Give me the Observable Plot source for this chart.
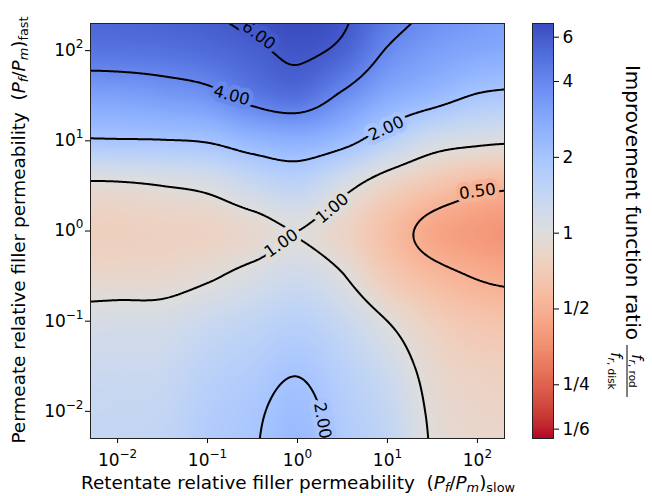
<!DOCTYPE html>
<html><head><meta charset="utf-8">
<script src="https://cdn.jsdelivr.net/npm/d3@7"></script>
<script src="https://cdn.jsdelivr.net/npm/@observablehq/plot@0.6"></script>
<style>
html,body{margin:0;padding:0;background:#fff;}
#chart{position:relative;width:652px;height:496px;}
#chart svg{position:absolute;left:0;top:0;}
</style></head><body><div id="chart"></div>
<script>
const retentateP = [0.00316, 0.01, 0.0316, 0.1, 0.316, 1, 3.16, 10, 31.6, 100, 316];
const permeateP  = [0.00316, 0.01, 0.0316, 0.1, 0.316, 1, 3.16, 10, 31.6, 100, 316];
// improvement ratio, one row per permeate value (ascending), columns follow retentateP
const row_m25 = [1.42, 1.45, 1.50, 1.78, 1.96, 2.30, 1.82, 1.48, 0.98, 0.87, 0.85];
const row_m20 = [1.38, 1.40, 1.43, 1.70, 1.90, 2.20, 1.75, 1.42, 0.95, 0.84, 0.82];
const row_m15 = [1.30, 1.30, 1.32, 1.55, 1.72, 1.93, 1.60, 1.25, 0.88, 0.77, 0.74];
const row_m10 = [1.12, 1.14, 1.15, 1.30, 1.45, 1.60, 1.35, 1.00, 0.75, 0.65, 0.62];
const row_m05 = [0.85, 0.86, 0.87, 0.96, 1.10, 1.25, 1.02, 0.70, 0.56, 0.49, 0.46];
const row_00  = [0.75, 0.76, 0.78, 0.80, 0.88, 1.00, 0.82, 0.60, 0.45, 0.40, 0.37];
const row_p05 = [0.94, 0.95, 1.00, 1.08, 1.32, 1.50, 1.12, 0.81, 0.65, 0.55, 0.52];
const row_p10 = [1.93, 1.95, 1.97, 2.05, 2.40, 2.60, 2.25, 1.62, 1.20, 1.08, 1.03];
const row_p15 = [3.05, 3.10, 3.30, 3.60, 4.50, 5.00, 3.80, 2.80, 2.35, 1.95, 1.85];
const row_p20 = [4.75, 4.80, 4.90, 5.20, 5.70, 6.30, 5.60, 3.90, 3.20, 2.90, 2.75];
const row_p25 = [5.50, 5.60, 5.80, 6.00, 6.50, 7.00, 6.40, 4.80, 3.90, 3.40, 3.20];
const ratioRows = [row_m25, row_m20, row_m15, row_m10, row_m05, row_00, row_p05, row_p10, row_p15, row_p20, row_p25];

const contourLevels = [0.5, 1, 2, 4, 6];
// inline contour labels
const labelLevel     = [6, 4, 2, 1, 1, 0.5, 2];
const labelRetentate = [0.37, 0.185, 9.7, 2.44, 0.66, 100, 1.89];
const labelPermeate  = [148, 31.8, 13.7, 1.78, 0.73, 2.74, 0.0079];
const labelAngle     = [37, 15, -25, -40, -35, -8, 80];

const axisTicks = [0.01, 0.1, 1, 10, 100];
const cbTicks = [1/6, 1/4, 1/2, 1, 2, 4, 6];
const cbTickLabels = ["1/6", "1/4", "1/2", "1", "2", "4", "6"];
const colorDomain = [0.153, 6.8];

// matplotlib coolwarm
const coolwarm = ["#3b4cc0","#445acc","#4d68d7","#5775e1","#6282ea","#6c8ef1","#779af7","#82a5fb","#8db0fe","#98b9ff","#a3c2ff","#aec9fd","#b8d0f9","#c2d5f4","#ccd9ee","#d5dbe6","#dddddd","#e5d8d1","#ecd3c5","#f1ccb9","#f5c4ad","#f7bba0","#f7b194","#f7a687","#f49a7b","#f18d6f","#ec7f63","#e57058","#de604d","#d55042","#cb3e38","#c0282f","#b40426"];
const coolwarmR = d3.piecewise(d3.interpolateRgb, coolwarm.slice().reverse());

// ---- table for the library ----
const grid = [];
permeateP.forEach((py, j) => retentateP.forEach((px, i) => grid.push({x: px, y: py, v: ratioRows[j][i], gi: i, gj: j})));

// smooth (bicubic, in log space) interpolation of the sampled grid, used by raster & contour
function gridInterp(index, w, h, X, Y, V) {
  const nI = retentateP.length, nJ = permeateP.length;
  let k00, k11;
  for (const k of index) {
    if (grid[k].gi === 0 && grid[k].gj === 0) k00 = k;
    if (grid[k].gi === nI - 1 && grid[k].gj === nJ - 1) k11 = k;
  }
  const ax = (X[k11] - X[k00]) / (nI - 1), bx = X[k00];
  const ay = (Y[k11] - Y[k00]) / (nJ - 1), by = Y[k00];
  const L = Array.from({length: nJ}, () => new Array(nI).fill(0));
  for (const k of index) L[grid[k].gj][grid[k].gi] = Math.log(V[k]);
  const get = (j, i) => L[Math.max(0, Math.min(nJ - 1, j))][Math.max(0, Math.min(nI - 1, i))];
  const cr = (p0, p1, p2, p3, t) => 0.5 * (2 * p1 + (-p0 + p2) * t + (2 * p0 - 5 * p1 + 4 * p2 - p3) * t * t + (-p0 + 3 * p1 - 3 * p2 + p3) * t * t * t);
  const out = new Float64Array(w * h);
  for (let r = 0; r < h; r++) {
    const v = (r + 0.5 - by) / ay, j = Math.floor(v), tv = v - j;
    for (let c = 0; c < w; c++) {
      const u = (c + 0.5 - bx) / ax, i = Math.floor(u), tu = u - i;
      const q = [-1, 0, 1, 2].map(d => cr(get(j + d, i - 1), get(j + d, i), get(j + d, i + 1), get(j + d, i + 2), tu));
      out[r * w + c] = Math.exp(cr(q[0], q[1], q[2], q[3], tv));
    }
  }
  return out;
}

const sup = {"-": "\u207B", "0": "\u2070", "1": "\u00B9", "2": "\u00B2", "3": "\u00B3"};
const supBack = {"\u207B": "\u2212", "\u2070": "0", "\u00B9": "1", "\u00B2": "2", "\u00B3": "3"};
const pow10 = d => "10" + String(Math.round(Math.log10(d))).replace(/[-0-9]/g, c => sup[c]);

const colorOpts = {type: "log", domain: colorDomain, interpolate: coolwarmR, clamp: true};
const font = "DejaVu Sans";

const bounds = {x1: retentateP[0], x2: retentateP[retentateP.length - 1], y1: permeateP[0], y2: permeateP[permeateP.length - 1]};

const main = Plot.plot({
  width: 652, height: 496,
  marginLeft: 90, marginRight: 148, marginTop: 23, marginBottom: 58,
  style: {fontFamily: font, fontSize: "17px", background: "white", color: "black"},
  x: {type: "log", domain: [0.005, 200], ticks: axisTicks, tickFormat: pow10, tickSize: 5, tickPadding: 10, label: null},
  y: {type: "log", domain: [0.005, 200], ticks: axisTicks, tickFormat: pow10, tickSize: 5, tickPadding: 2, label: null},
  color: colorOpts,
  marks: [
    Plot.raster(grid, {x: "x", y: "y", fill: "v", interpolate: gridInterp, ...bounds, pixelSize: 1, clip: true}),
    Plot.contour(grid, {x: "x", y: "y", value: "v", interpolate: gridInterp, thresholds: contourLevels, ...bounds, pixelSize: 1, stroke: "black", strokeWidth: 2, fill: "none", clip: true}),
    Plot.text(labelLevel, {
      x: (d, i) => labelRetentate[i], y: (d, i) => labelPermeate[i],
      text: d => d.toFixed(2), rotate: (d, i) => labelAngle[i],
      fontSize: 16.5, fill: "black", stroke: d => d, strokeWidth: 9, paintOrder: "stroke", clip: true
    }),
    Plot.frame({stroke: "#222", strokeWidth: 1})
  ]
});

const bar = Plot.plot({
  width: 652, height: 496,
  marginLeft: 532, marginRight: 99, marginTop: 23, marginBottom: 58,
  style: {fontFamily: font, fontSize: "17px", background: "transparent", color: "black"},
  x: {domain: [0, 1], axis: null},
  y: {type: "log", domain: colorDomain, axis: "right", ticks: cbTicks, tickFormat: d => cbTickLabels[cbTicks.indexOf(d)], tickSize: 5, tickPadding: 4, label: null},
  color: colorOpts,
  marks: [
    Plot.raster({x1: 0, x2: 1, y1: colorDomain[0], y2: colorDomain[1], fill: (x, y) => y, pixelSize: 1}),
    Plot.frame({stroke: "#222", strokeWidth: 1})
  ]
});

const chart = document.getElementById("chart");
chart.appendChild(main);
chart.appendChild(bar);

// tick labels: turn unicode superscripts into a raised exponent
d3.select(main).selectAll("text").each(function() {
  const m = /^10([\u207B\u2070\u00B9\u00B2\u00B3]+)$/.exec(this.textContent);
  if (!m) return;
  const exp = [...m[1]].map(c => supBack[c]).join("");
  this.textContent = "10";
  d3.select(this).append("tspan").attr("font-size", 12).attr("dy", -8).text(exp);
});

// ---- axis titles (real text with math-like tspans) ----
function addMathLabel(sel, mainText, sub, fs) {
  const t = sel.append("text").attr("font-family", font).attr("font-size", fs).attr("fill", "black").style("white-space", "pre");
  const s = fs * 0.7;
  t.append("tspan").text(mainText + "  (");
  t.append("tspan").attr("font-style", "italic").text("P");
  t.append("tspan").attr("font-style", "italic").attr("font-size", s).attr("dy", 3).text("f");
  t.append("tspan").attr("dy", -3).text("/");
  t.append("tspan").attr("font-style", "italic").text("P");
  t.append("tspan").attr("font-style", "italic").attr("font-size", s).attr("dy", 3).text("m");
  t.append("tspan").attr("dy", -3).text(")");
  t.append("tspan").attr("font-size", s).attr("dy", 3).text(sub);
  return t;
}
const ms = d3.select(main);
addMathLabel(ms, "Retentate relative filler permeability", "slow", 18.4)
  .attr("x", 298).attr("y", 489).attr("text-anchor", "middle");
addMathLabel(ms.append("g").attr("transform", "translate(25,230) rotate(-90)"), "Permeate relative filler permeability", "fast", 18.4)
  .attr("x", 0).attr("y", 0).attr("text-anchor", "middle");

// colorbar title
const bs = d3.select(bar);
const g = bs.append("g").attr("transform", "translate(626,230) rotate(90)").attr("font-family", font).attr("fill", "black");
g.append("text").attr("x", 110).attr("y", 0).attr("text-anchor", "end").attr("font-size", 20).text("Improvement function ratio");
const num = g.append("text").attr("x", 141).attr("y", -6).attr("text-anchor", "middle").attr("font-size", 15).style("white-space", "pre");
num.append("tspan").attr("font-style", "italic").text("f");
num.append("tspan").attr("font-size", 10.5).attr("dy", 3).attr("font-style", "italic").text("r");
num.append("tspan").attr("font-size", 10.5).text(", rod");
const den = g.append("text").attr("x", 141).attr("y", 15).attr("text-anchor", "middle").attr("font-size", 15).style("white-space", "pre");
den.append("tspan").attr("font-style", "italic").text("f");
den.append("tspan").attr("font-size", 10.5).attr("dy", 3).attr("font-style", "italic").text("r");
den.append("tspan").attr("font-size", 10.5).text(", disk");
g.append("line").attr("x1", 115).attr("x2", 167).attr("y1", -1).attr("y2", -1).attr("stroke", "black").attr("stroke-width", 1);
</script></body></html>
